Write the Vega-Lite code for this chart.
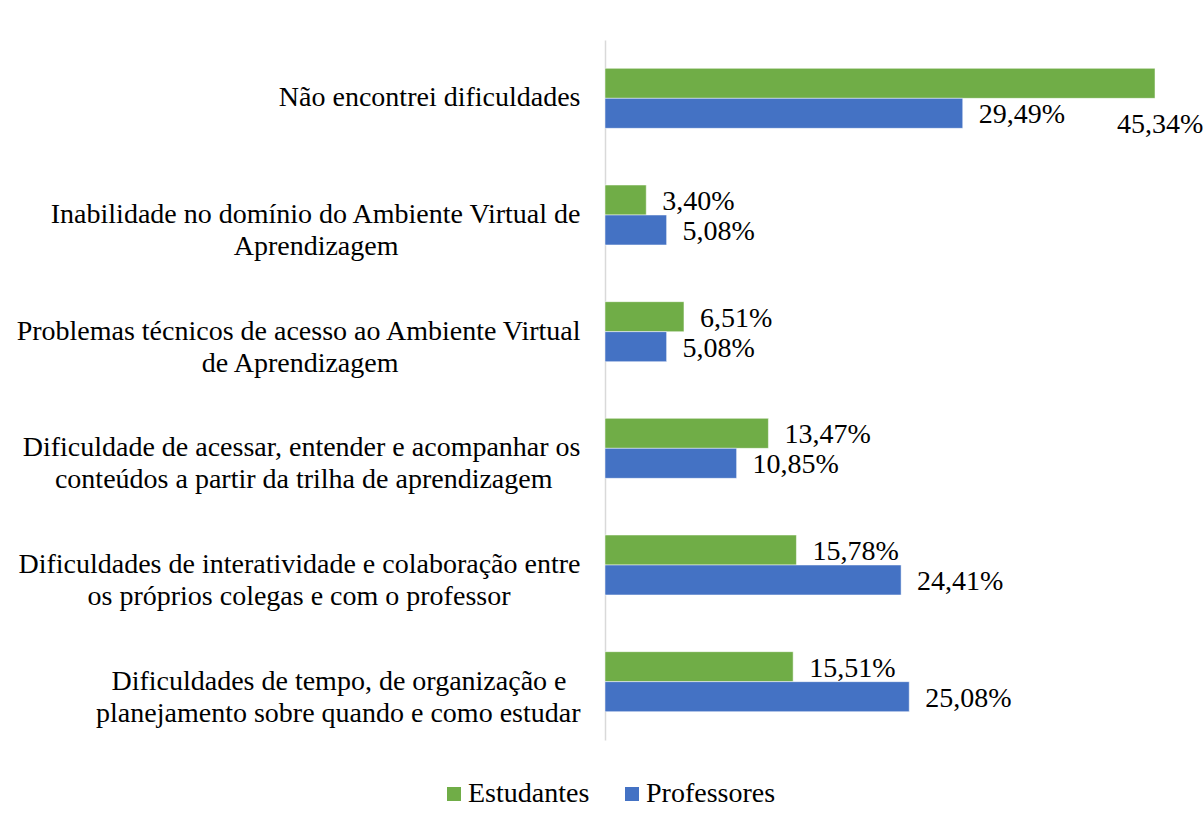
{
  "$schema": "https://vega.github.io/schema/vega-lite/v6.json",
  "width": 575,
  "height": 700,
  "autosize": "none",
  "padding": {"left": 605, "top": 40, "right": 23, "bottom": 86},
  "background": "white",
  "config": {
    "view": {"stroke": null},
    "locale": {"number": {"decimal": ",", "thousands": ".", "grouping": [3], "currency": ["", ""]}},
    "font": "Liberation Serif"
  },
  "data": {
    "values": [
      {"categoria": "Não encontrei dificuldades", "serie": "Estudantes", "valor": 0.4534},
      {"categoria": "Não encontrei dificuldades", "serie": "Professores", "valor": 0.2949},
      {"categoria": "Inabilidade no domínio do Ambiente Virtual de|Aprendizagem\u00a0\u00a0\u00a0\u00a0\u00a0\u00a0\u00a0\u00a0\u00a0\u00a0\u00a0\u00a0\u00a0\u00a0\u00a0\u00a0\u00a0\u00a0\u00a0\u00a0\u00a0\u00a0\u00a0\u00a0\u00a0\u00a0\u200b", "serie": "Estudantes", "valor": 0.0340},
      {"categoria": "Inabilidade no domínio do Ambiente Virtual de|Aprendizagem\u00a0\u00a0\u00a0\u00a0\u00a0\u00a0\u00a0\u00a0\u00a0\u00a0\u00a0\u00a0\u00a0\u00a0\u00a0\u00a0\u00a0\u00a0\u00a0\u00a0\u00a0\u00a0\u00a0\u00a0\u00a0\u00a0\u200b", "serie": "Professores", "valor": 0.0508},
      {"categoria": "Problemas técnicos de acesso ao Ambiente Virtual|de Aprendizagem\u00a0\u00a0\u00a0\u00a0\u00a0\u00a0\u00a0\u00a0\u00a0\u00a0\u00a0\u00a0\u00a0\u00a0\u00a0\u00a0\u00a0\u00a0\u00a0\u00a0\u00a0\u00a0\u00a0\u00a0\u00a0\u00a0\u200b", "serie": "Estudantes", "valor": 0.0651},
      {"categoria": "Problemas técnicos de acesso ao Ambiente Virtual|de Aprendizagem\u00a0\u00a0\u00a0\u00a0\u00a0\u00a0\u00a0\u00a0\u00a0\u00a0\u00a0\u00a0\u00a0\u00a0\u00a0\u00a0\u00a0\u00a0\u00a0\u00a0\u00a0\u00a0\u00a0\u00a0\u00a0\u00a0\u200b", "serie": "Professores", "valor": 0.0508},
      {"categoria": "Dificuldade de acessar, entender e acompanhar os|conteúdos a partir da trilha de aprendizagem\u00a0\u00a0\u00a0\u00a0\u200b", "serie": "Estudantes", "valor": 0.1347},
      {"categoria": "Dificuldade de acessar, entender e acompanhar os|conteúdos a partir da trilha de aprendizagem\u00a0\u00a0\u00a0\u00a0\u200b", "serie": "Professores", "valor": 0.1085},
      {"categoria": "Dificuldades de interatividade e colaboração entre|os próprios colegas e com o professor\u00a0\u00a0\u00a0\u00a0\u00a0\u00a0\u00a0\u00a0\u00a0\u00a0\u200b", "serie": "Estudantes", "valor": 0.1578},
      {"categoria": "Dificuldades de interatividade e colaboração entre|os próprios colegas e com o professor\u00a0\u00a0\u00a0\u00a0\u00a0\u00a0\u00a0\u00a0\u00a0\u00a0\u200b", "serie": "Professores", "valor": 0.2441},
      {"categoria": "Dificuldades de tempo, de organização e\u00a0\u00a0\u200b|planejamento sobre quando e como estudar", "serie": "Estudantes", "valor": 0.1551},
      {"categoria": "Dificuldades de tempo, de organização e\u00a0\u00a0\u200b|planejamento sobre quando e como estudar", "serie": "Professores", "valor": 0.2508}
    ]
  },
  "encoding": {
    "y": {
      "field": "categoria", "type": "nominal", "sort": null, "title": null,
      "scale": {"paddingInner": 0.486, "paddingOuter": 0.243},
      "axis": {
        "labelExpr": "split(datum.label, '|')",
        "labelFont": "Liberation Serif", "labelFontSize": 28, "labelColor": "#000000",
        "labelLineHeight": 32, "labelPadding": 25, "labelLimit": 800,
        "ticks": false, "domainColor": "#d9d9d9", "domainWidth": 1.5
      }
    },
    "yOffset": {"field": "serie", "type": "nominal", "sort": ["Estudantes", "Professores"], "scale": {"paddingInner": 0}},
    "x": {"field": "valor", "type": "quantitative", "scale": {"domain": [0, 0.474], "nice": false}, "axis": null}
  },
  "layer": [
    {
      "mark": {"type": "bar", "stroke": "#ffffff", "strokeWidth": 0.5},
      "encoding": {
        "color": {
          "field": "serie", "type": "nominal", "sort": ["Estudantes", "Professores"],
          "scale": {"domain": ["Estudantes", "Professores"], "range": ["#70ad47", "#4472c4"]},
          "legend": {
            "title": null, "orient": "none", "direction": "horizontal",
            "legendX": -165, "legendY": 740,
            "symbolType": "square", "symbolSize": 196, "symbolStrokeWidth": 0,
            "labelFont": "Liberation Serif", "labelFontSize": 28, "labelColor": "#000000",
            "columnPadding": 28, "labelOffset": 0
          }
        }
      }
    },
    {
      "transform": [{"filter": "datum.valor < 0.4"}],
      "mark": {"type": "text", "align": "left", "baseline": "middle", "dx": 16, "dy": 2, "font": "Liberation Serif", "fontSize": 28, "color": "#000000"},
      "encoding": {"text": {"field": "valor", "type": "quantitative", "format": ".2%"}}
    },
    {
      "transform": [{"filter": "datum.valor >= 0.4"}],
      "mark": {"type": "text", "align": "left", "baseline": "middle", "dx": -38, "dy": 42, "font": "Liberation Serif", "fontSize": 28, "color": "#000000"},
      "encoding": {"text": {"field": "valor", "type": "quantitative", "format": ".2%"}}
    }
  ]
}
